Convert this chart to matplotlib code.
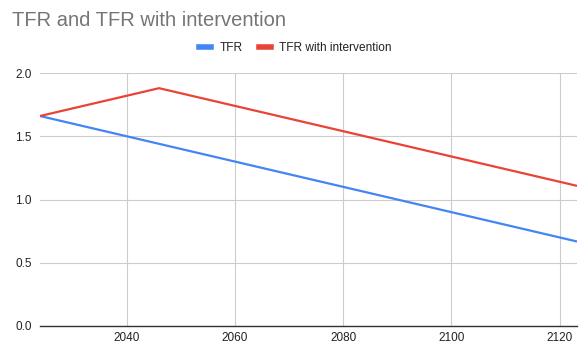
import matplotlib.pyplot as plt

# Breakpoints of the two series (both are straight segments between these)
years = [2024, 2046, 2123]
tfr = [1.66, 1.44, 0.67]
tfr_intervention = [1.66, 1.88, 1.11]

x_ticks = [2040, 2060, 2080, 2100, 2120]
y_ticks = [0.0, 0.5, 1.0, 1.5, 2.0]

plt.rcParams['font.family'] = ['Liberation Sans', 'DejaVu Sans']

W, H = 586, 351
fig = plt.figure(figsize=(W / 100, H / 100), dpi=100)
ax = fig.add_axes([40 / W, (H - 326) / H, (577 - 40) / W, (326 - 73) / H])

ax.plot(years, tfr, color='#4285F4', linewidth=1.6, label='TFR')
ax.plot(years, tfr_intervention, color='#EA4335', linewidth=1.6, label='TFR with intervention')

ax.set_xlim(2024, 2123.2)
ax.set_ylim(0, 2.0)
ax.set_xticks(x_ticks)
ax.set_yticks(y_ticks)
ax.set_yticklabels([f'{v:.1f}' for v in y_ticks])
ax.grid(True, color='#cccccc', linewidth=0.8)
ax.set_axisbelow(True)
for side in ['left', 'right', 'top']:
    ax.spines[side].set_visible(False)
ax.spines['bottom'].set_color('#333333')
ax.spines['bottom'].set_linewidth(1.0)
ax.tick_params(length=0, labelsize=8.5, colors='#222222', pad=6)
ax.tick_params(axis='x', pad=4)

fig.text(12 / W, 1 - 20 / H, 'TFR and TFR with intervention', fontsize=14.5,
         color='#757575', va='center', ha='left')

ax.legend(loc='center', bbox_to_anchor=(0.476, 1 + (73 - 48) / (326 - 73)),
          ncol=2, frameon=False, fontsize=8.6, handlelength=1.0,
          handleheight=0.5, columnspacing=1.35, handletextpad=0.7,
          labelcolor='#222222')
for line in ax.get_legend().get_lines():
    line.set_linewidth(4)

fig.savefig('out.png', dpi=100)
